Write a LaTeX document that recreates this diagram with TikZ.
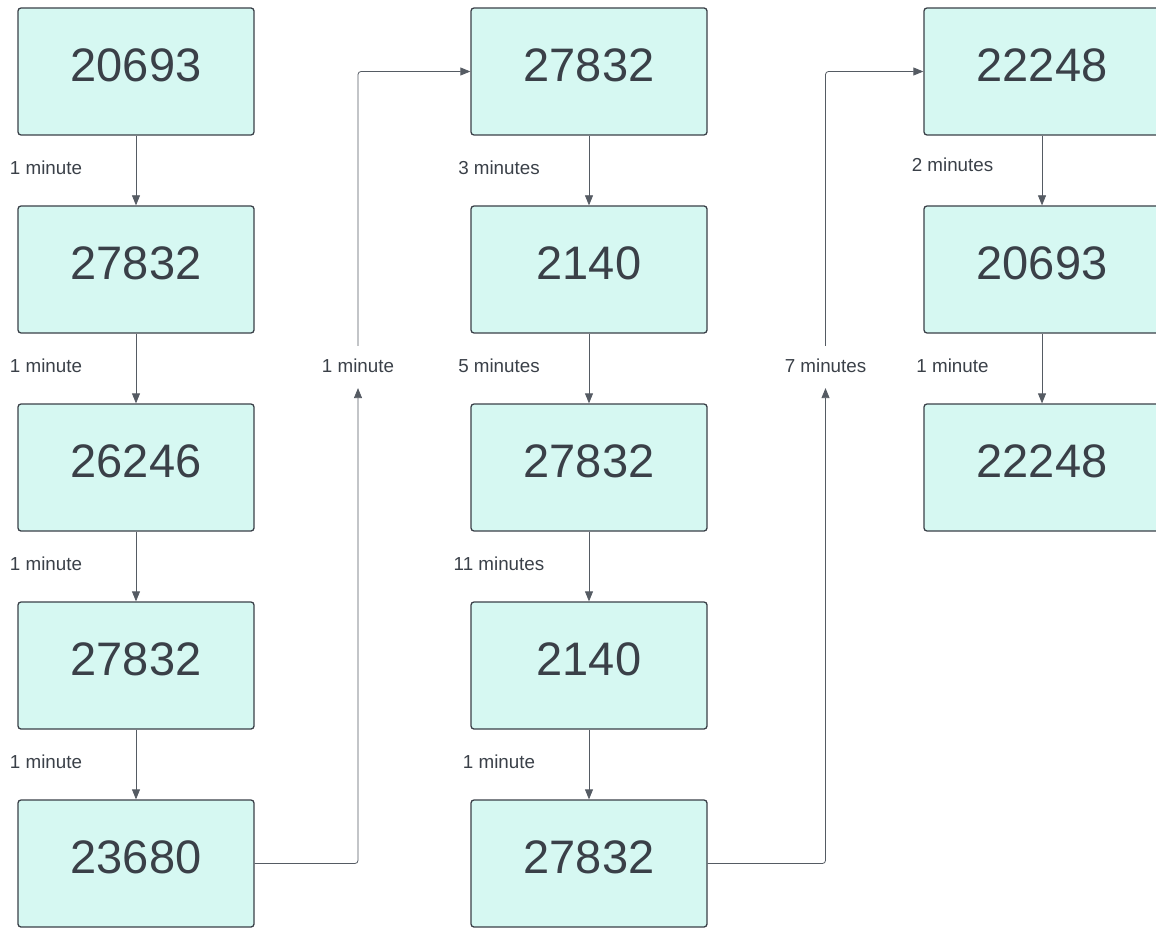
\documentclass[tikz,border=0pt]{standalone}
\usepackage{fontspec}
\setmainfont{Liberation Sans}
\usetikzlibrary{arrows.meta}
\definecolor{boxfill}{HTML}{D6F8F2}
\definecolor{boxline}{HTML}{3A4048}
\definecolor{txt}{HTML}{3A4048}
\definecolor{conn}{HTML}{555B63}
\begin{document}
\begin{tikzpicture}[x=1pt,y=-1pt,
  numbox/.style={draw=boxline,fill=boxfill,line width=1.3pt,rounded corners=3pt,
    minimum width=236pt,minimum height=127pt,inner sep=0pt,text depth=12pt,
    text=txt,font=\fontsize{47}{56}\selectfont},
  lab/.style={text=txt,font=\fontsize{18.8}{22}\selectfont,inner sep=1pt},
  conn/.style={draw=conn,line width=0.8pt,-{Triangle[length=10pt,width=8pt]}}]
\useasboundingbox (0,0) rectangle (1156,928);
% column 1
\node[numbox] (a1) at (136,71.5) {20693};
\node[numbox] (a2) at (136,269.5) {27832};
\node[numbox] (a3) at (136,467.5) {26246};
\node[numbox] (a4) at (136,665.5) {27832};
\node[numbox] (a5) at (136,863.5) {23680};
% column 2
\node[numbox] (b1) at (589,71.5) {27832};
\node[numbox] (b2) at (589,269.5) {2140};
\node[numbox] (b3) at (589,467.5) {27832};
\node[numbox] (b4) at (589,665.5) {2140};
\node[numbox] (b5) at (589,863.5) {27832};
% column 3
\node[numbox] (c1) at (1042,71.5) {22248};
\node[numbox] (c2) at (1042,269.5) {20693};
\node[numbox] (c3) at (1042,467.5) {22248};
% vertical connectors
\foreach \u/\v in {a1/a2,a2/a3,a3/a4,a4/a5,b1/b2,b2/b3,b3/b4,b4/b5,c1/c2,c2/c3}
  \draw[conn] (\u.south) -- (\v.north);
% labels column 1
\node[lab] (la1) at (46,168) {1 minute};
\node[lab] (la2) at (46,366) {1 minute};
\node[lab] (la3) at (46,564) {1 minute};
\node[lab] (la4) at (46,762) {1 minute};
% labels column 2
\node[lab] (lb1) at (499,168) {3 minutes};
\node[lab] (lb2) at (499,366) {5 minutes};
\node[lab] (lb3) at (499,564) {11 minutes};
\node[lab] (lb4) at (499,762) {1 minute};
% labels column 3
\node[lab] (lc1) at (952.5,165) {2 minutes};
\node[lab] (lc2) at (952.5,366) {1 minute};
% loop labels
\node[lab] (l1) at (358,366) {1 minute};
\node[lab] (l2) at (825.5,366) {7 minutes};
% loop connectors
\draw[conn,rounded corners=3pt] (a5.east) -- (l1.south |- a5.east) -- ([yshift=-14pt]l1.south);
\draw[conn,rounded corners=3pt] ([yshift=12pt]l1.north) -- (l1.north |- b1.west) -- (b1.west);
\draw[conn,rounded corners=3pt] (b5.east) -- (l2.south |- b5.east) -- ([yshift=-14pt]l2.south);
\draw[conn,rounded corners=3pt] ([yshift=12pt]l2.north) -- (l2.north |- c1.west) -- (c1.west);
\end{tikzpicture}
\end{document}
